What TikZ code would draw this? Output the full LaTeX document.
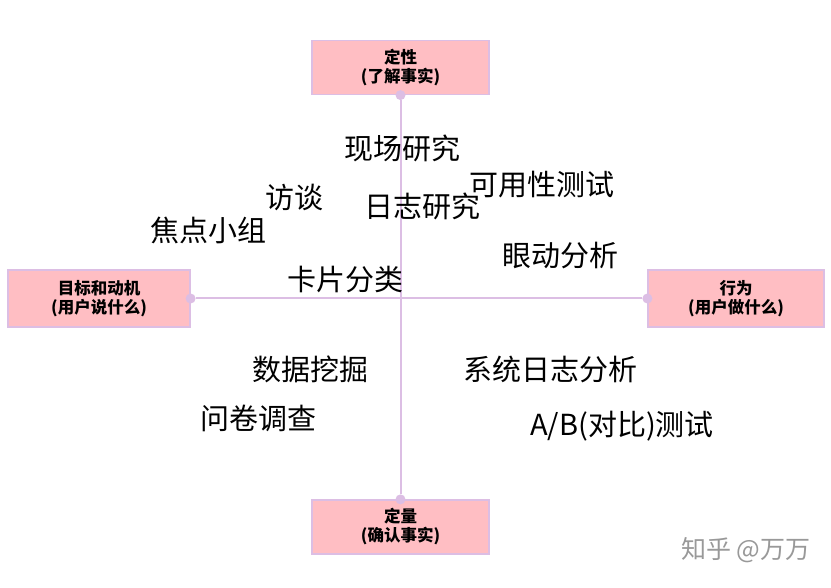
\documentclass[tikz,border=0pt]{standalone}
\usepackage{fontspec}
\setmainfont{Noto Sans CJK SC}
\begin{document}
\begin{tikzpicture}[x=1pt,y=-1pt,
  box/.style={draw=axis,line width=1.2pt,fill=boxfill,minimum width=177pt,minimum height=54pt,align=center,font=\fontsize{16.5}{19}\selectfont\bfseries,inner sep=0pt},
  lab/.style={font=\fontsize{29}{31}\selectfont,inner sep=0pt},
  dot/.style={circle,fill=axis,inner sep=0pt,minimum size=10pt}]
\definecolor{boxfill}{RGB}{255,190,195}
\definecolor{axis}{RGB}{220,190,228}
\useasboundingbox (0,0) rectangle (831,588);
\node[box] (top) at (400.5,67.5) {定性\\(了解事实)};
\node[box] (bot) at (400.5,527) {定量\\(确认事实)};
\node[box,minimum width=182pt,minimum height=57pt] (left) at (99,298.5) {目标和动机\\(用户说什么)};
\node[box,minimum width=176pt,minimum height=57pt] (right) at (736,298.5) {行为\\(用户做什么)};
\node[dot] (dt) at (top.south) {};
\node[dot] (db) at (bot.north) {};
\node[dot] (dl) at (left.east) {};
\node[dot] (dr) at (right.west) {};
\draw[axis,line width=2pt] (dt) -- (db);
\draw[axis,line width=2pt] (dl) -- (dr);
\node[lab] (a1) at (402,148) {现场研究};
\node[lab] (a2) at (542,185) {可用性测试};
\node[lab] (a3) at (294,198) {访谈};
\node[lab] (a4) at (422,206) {日志研究};
\node[lab] (a5) at (208,230) {焦点小组};
\node[lab] (a6) at (560,256) {眼动分析};
\node[lab] (a7) at (345,280) {卡片分类};
\node[lab] (a8) at (310,369) {数据挖掘};
\node[lab] (a9) at (550,369) {系统日志分析};
\node[lab] (a10) at (258,418) {问卷调查};
\node[lab] (a11) at (622,426) {A/B(对比)测试};
\node[font=\fontsize{25}{27}\selectfont,text=black!40,inner sep=0pt] (wm) at (746,550) {知乎 @万万};
\end{tikzpicture}
\end{document}
